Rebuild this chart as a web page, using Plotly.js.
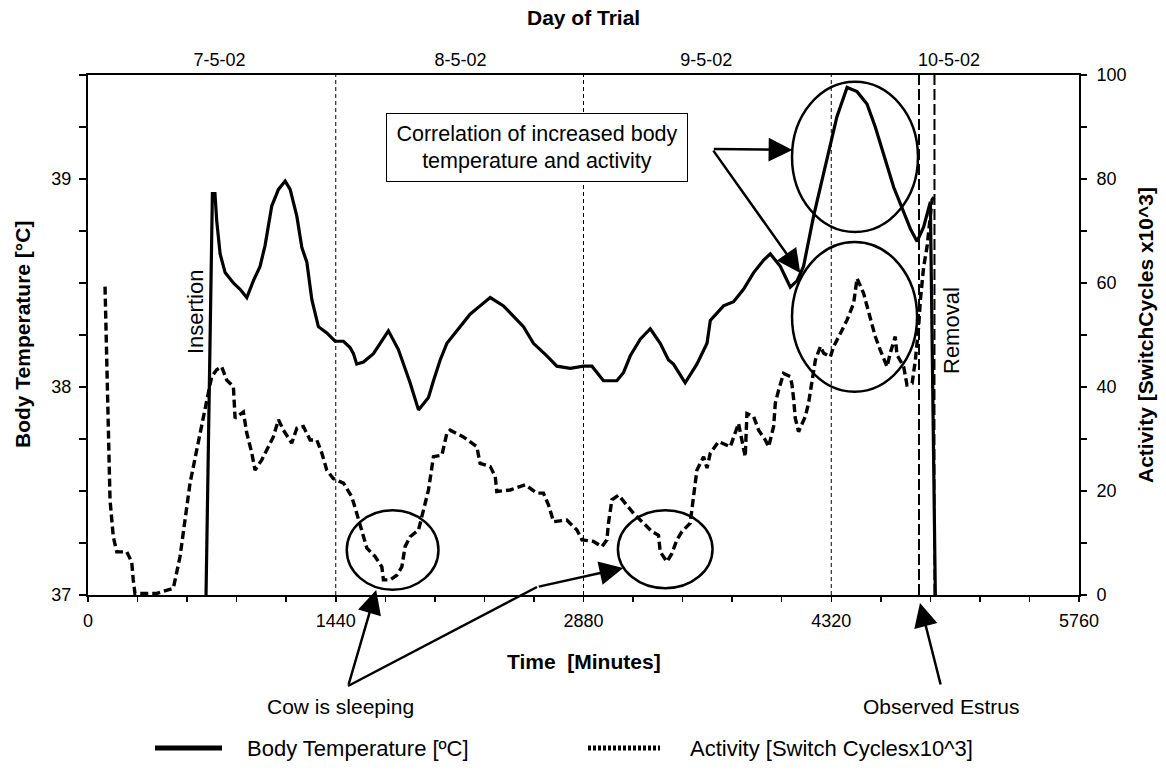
<!DOCTYPE html>
<html>
<head>
<meta charset="utf-8">
<script src="https://cdn.plot.ly/plotly-3.0.1.min.js"></script>
<style>html,body{margin:0;padding:0;background:#fff;}#chart{width:1166px;height:771px;}</style>
</head>
<body>
<div id="chart"></div>
<script>
// ---------- data ----------
const tempTime = [686,723,738,748,768,797,845,884,923,961,1000,1029,1068,1107,1146,1175,1214,1243,1272,1301,1339,1388,1436,1485,1523,1543,1562,1601,1659,1717,1746,1804,1872,1921,1979,2008,2047,2086,2144,2221,2279,2338,2415,2473,2531,2589,2667,2725,2803,2880,2929,2996,3074,3113,3152,3210,3268,3326,3374,3403,3471,3539,3598,3617,3694,3752,3810,3869,3927,3966,4024,4053,4082,4121,4159,4217,4295,4353,4412,4470,4528,4576,4624,4683,4722,4780,4819,4857,4896,4925];
const bodyTemp = [37.00,38.93,38.93,38.80,38.64,38.55,38.50,38.47,38.43,38.51,38.58,38.68,38.87,38.95,38.99,38.95,38.82,38.67,38.60,38.42,38.29,38.26,38.22,38.22,38.19,38.16,38.11,38.12,38.16,38.23,38.27,38.18,38.02,37.89,37.95,38.03,38.13,38.21,38.27,38.35,38.39,38.43,38.39,38.34,38.29,38.21,38.15,38.10,38.09,38.10,38.10,38.03,38.03,38.07,38.15,38.23,38.28,38.21,38.13,38.11,38.02,38.11,38.21,38.32,38.39,38.41,38.47,38.55,38.61,38.64,38.58,38.53,38.48,38.51,38.58,38.82,39.09,39.30,39.44,39.42,39.36,39.25,39.12,38.96,38.88,38.76,38.70,38.77,38.89,37.00];

const actTime = [99,118,128,147,167,225,254,263,273,399,496,535,564,593,632,670,700,719,748,777,807,845,855,903,923,952,971,1010,1039,1077,1107,1136,1184,1214,1252,1291,1330,1359,1388,1426,1485,1533,1562,1592,1621,1669,1708,1717,1756,1795,1824,1843,1872,1921,1950,1979,2008,2057,2086,2105,2182,2260,2279,2338,2367,2376,2454,2541,2609,2647,2677,2706,2783,2842,2871,2938,2987,3016,3025,3045,3084,3123,3171,3220,3278,3316,3326,3365,3394,3423,3452,3500,3520,3539,3578,3598,3617,3665,3733,3762,3781,3820,3830,3869,3898,3937,3956,3985,3995,4014,4043,4082,4092,4101,4111,4130,4169,4188,4208,4228,4257,4276,4315,4334,4373,4412,4450,4470,4508,4547,4576,4605,4644,4663,4692,4702,4741,4760,4790,4809,4828,4838,4857,4877,4906,4925];
const activity = [59.3,29.8,18.3,11.2,8.3,8.3,6.4,2.9,0.3,0.3,1.3,7.4,14.4,21.5,27.9,34.3,39.4,42.0,43.3,43.9,41.3,40.1,34.0,35.2,31.1,27.3,24.0,26.0,27.9,30.4,33.7,31.7,29.2,32.1,32.4,29.8,29.8,27.3,24.0,22.4,21.5,18.9,15.7,12.2,9.0,7.4,5.4,2.9,2.9,3.8,5.4,9.3,11.2,12.5,16.3,20.2,26.6,26.9,31.1,31.7,30.4,28.5,25.3,24.7,22.8,19.9,20.2,21.2,19.6,19.6,17.3,14.1,14.4,12.5,10.6,10.3,9.3,10.6,13.8,18.3,19.2,17.6,15.7,14.1,12.2,11.5,8.3,6.4,8.0,10.6,12.2,13.8,18.9,24.0,26.6,24.4,27.3,29.5,28.5,31.1,33.0,26.6,34.9,34.3,31.7,29.8,28.5,32.4,36.9,39.4,42.6,42.0,40.4,37.8,34.0,31.4,34.3,36.9,41.3,45.2,47.8,46.5,45.8,47.8,50.3,52.9,56.1,60.9,58.0,53.5,49.7,47.1,43.9,46.5,49.7,46.2,43.9,40.4,40.7,45.2,51.6,56.7,63.1,67.0,76.0,76.9];

const timeTicks = [0,1440,2880,4320,5760];
const dayLabels = ['7-5-02','8-5-02','9-5-02','10-5-02'];
const dayLabelPos = [765,2165,3593,5005];
const dayBoundaries = [1440,2880,4320];
const estrusLines = [4830,4920];
const tempTicks = [37,38,39];
const actTicks = [0,20,40,60,80,100];

// highlight ellipses (x in minutes, y in activity units)
const ellX0 = [4092,4092,1504,3080];
const ellX1 = [4824,4819,2037,3630];
const ellY0 = [69.8,39.1,1.0,1.3];
const ellY1 = [98.7,67.9,16.3,16.3];

const FONT = 'Liberation Sans, Arial, Helvetica, sans-serif';

const traces = [
  {x: tempTime, y: bodyTemp, xaxis:'x', yaxis:'y', mode:'lines', name:'Body Temperature [ºC]',
   line:{color:'#000', width:3.2}, showlegend:false, hoverinfo:'skip'},
  {x: actTime, y: activity, xaxis:'x2', yaxis:'y2', mode:'lines', name:'Activity [Switch Cyclesx10^3]',
   line:{color:'#000', width:3.4, dash:'8px,4px'}, showlegend:false, hoverinfo:'skip'}
];

const shapes = [];
dayBoundaries.forEach(v => shapes.push({type:'line', xref:'x', yref:'paper', x0:v, x1:v, y0:0, y1:1,
  line:{color:'#000', width:1, dash:'4px,3px'}, layer:'below'}));
estrusLines.forEach(v => shapes.push({type:'line', xref:'x', yref:'paper', x0:v, x1:v, y0:0, y1:1,
  line:{color:'#000', width:2, dash:'11px,4px'}, layer:'below'}));
for (let i = 0; i < ellX0.length; i++) {
  shapes.push({type:'circle', xref:'x', yref:'y2', x0:ellX0[i], x1:ellX1[i], y0:ellY0[i], y1:ellY1[i],
    line:{color:'#000', width:2.5}});
}
// px -> paper helpers for elements placed outside the plotting area
const PL = 88, PW = 991, PT = 75, PH = 520;
const px = v => (v - PL) / PW;
const py = v => (PT + PH - v) / PH;
// connecting line for second "sleeping" arrow
shapes.push({type:'line', xref:'paper', yref:'paper', x0:px(348), y0:py(686), x1:px(537), y1:py(587),
  line:{color:'#000', width:2.5}});
// custom legend samples
shapes.push({type:'line', xref:'paper', yref:'paper', x0:px(155), x1:px(222), y0:py(748), y1:py(748),
  line:{color:'#000', width:5}});
shapes.push({type:'line', xref:'paper', yref:'paper', x0:px(588), x1:px(660), y0:py(748), y1:py(748),
  line:{color:'#000', width:5, dash:'3px,2px'}});

const arrowStyle = {showarrow:true, arrowhead:2, arrowsize:1.9, arrowwidth:2.5, arrowcolor:'#000', text:'', standoff:0};
function txt(x, y, text, size, extra) {
  return Object.assign({xref:'paper', yref:'paper', x:x, y:y, text:text, showarrow:false,
    xanchor:'center', yanchor:'middle', font:{family:FONT, size:size, color:'#000'}}, extra || {});
}
const annotations = [
  Object.assign({xref:'x', yref:'y2', x:4094, y:85.6, ax:-80, ay:-1}, arrowStyle),
  Object.assign({xref:'x', yref:'y2', x:4140, y:61.9, ax:-88, ay:-124}, arrowStyle),
  Object.assign({xref:'x', yref:'y2', x:1675, y:0.96, ax:-28, ay:96}, arrowStyle),
  Object.assign({xref:'x', yref:'y2', x:3111, y:5.2, ax:-86, ay:19}, arrowStyle),
  Object.assign({xref:'paper', yref:'paper', x:px(920), y:py(603), ax:21, ay:83}, arrowStyle),
  txt(px(537), py(147.5), 'Correlation of increased body<br>temperature and activity', 21.5,
    {bordercolor:'#000', borderwidth:1, bgcolor:'#fff', borderpad:3, width:294, height:61, align:'center'}),
  txt(px(195), py(312), 'Insertion', 22, {textangle:-90}),
  txt(px(951), py(331), 'Removal', 22, {textangle:-90}),
  txt(px(340), py(706), 'Cow is sleeping', 21),
  txt(px(941), py(706), 'Observed Estrus', 21),
  txt(0.5, py(18), '<b>Day of Trial</b>', 21),
  txt(0.5, py(661), '<b>Time\u00a0\u00a0[Minutes]</b>', 21),
  txt(px(22), 0.5, '<b>Body Temperature [°C]</b>', 21, {textangle:-90}),
  txt(px(1145), 0.5, '<b>Activity [SwitchCycles x10^3]</b>', 21, {textangle:-90}),
  txt(px(245), py(748), 'Body Temperature [ºC]', 22, {xanchor:'left'}),
  txt(px(688), py(748), 'Activity [Switch Cyclesx10^3]', 22, {xanchor:'left'})
];

const tickFont = {family:FONT, size:18, color:'#000'};
const layout = {
  width:1166, height:771,
  margin:{l:PL, r:1166-PL-PW, t:PT, b:771-PT-PH},
  paper_bgcolor:'#fff', plot_bgcolor:'#fff',
  showlegend:false,
  xaxis:{range:[0,5760], tickvals:timeTicks, ticktext:timeTicks.map(String), ticks:'outside', ticklen:5,
    tickwidth:1.5, tickcolor:'#000', showline:true, linecolor:'#000', linewidth:2, showgrid:false, zeroline:false,
    ticklabelstandoff:3,
    tickfont:tickFont, minor:{dtick:288, tick0:0, ticks:'outside', ticklen:5, tickwidth:1.5, tickcolor:'#000', showgrid:false}},
  xaxis2:{range:[0,5760], overlaying:'x', side:'top', tickvals:dayLabelPos, ticktext:dayLabels, ticks:'',
    showline:true, linecolor:'#000', linewidth:2, showgrid:false, zeroline:false,
    tickfont:tickFont},
  yaxis:{range:[37,39.5], tickvals:tempTicks, ticktext:tempTicks.map(String), ticks:'outside', ticklen:7,
    tickwidth:1.5, tickcolor:'#000', showline:true, linecolor:'#000', linewidth:2, showgrid:false, zeroline:false,
    ticklabelstandoff:4,
    tickfont:tickFont, minor:{dtick:0.25, tick0:37, ticks:'outside', ticklen:7, tickwidth:1.5, tickcolor:'#000', showgrid:false}},
  yaxis2:{range:[0,100], overlaying:'y', side:'right', tickvals:actTicks, ticktext:actTicks.map(String), ticks:'outside',
    ticklen:6, tickwidth:1.5, tickcolor:'#000', showline:true, linecolor:'#000', linewidth:2, showgrid:false, zeroline:false,
    ticklabelstandoff:6,
    tickfont:tickFont, minor:{dtick:10, tick0:0, ticks:'outside', ticklen:6, tickwidth:1.5, tickcolor:'#000', showgrid:false}},
  shapes:shapes,
  annotations:annotations
};

Plotly.newPlot('chart', traces, layout, {staticPlot:true, displayModeBar:false});
</script>
</body>
</html>
